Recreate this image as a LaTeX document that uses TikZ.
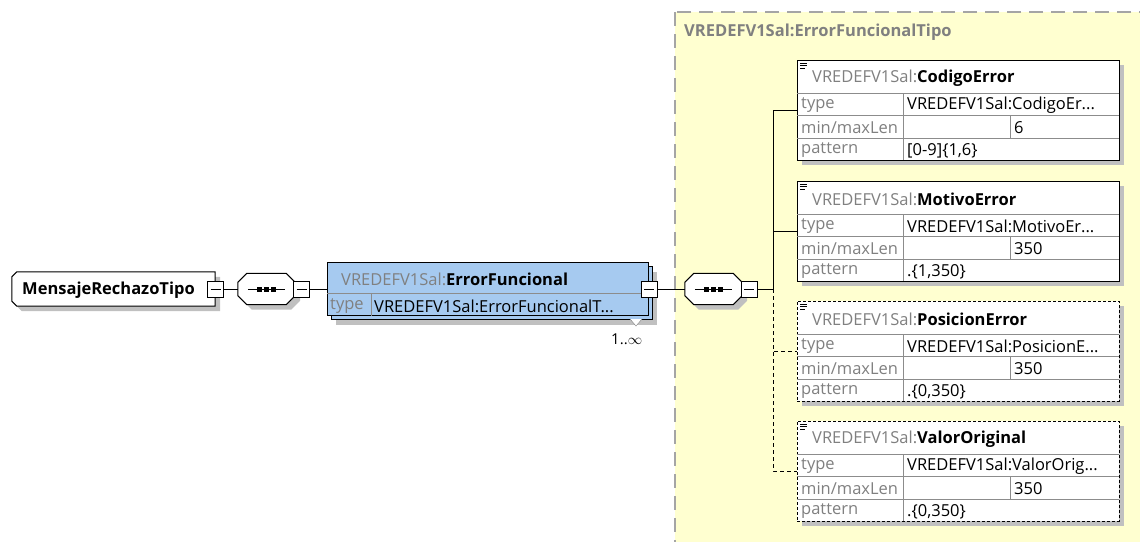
\documentclass[tikz,border=0pt]{standalone}
\usepackage{fontspec}
\setmainfont{Open Sans}
\usepackage{tikz}
\usetikzlibrary{positioning,shadows}
\hyphenpenalty=10000
\definecolor{shadowgray}{RGB}{192,192,192}
\definecolor{panelyellow}{RGB}{255,255,208}
\definecolor{panelline}{RGB}{165,165,165}
\definecolor{efblue}{RGB}{166,202,240}
\definecolor{labelgray}{RGB}{128,128,128}
\definecolor{rulegray}{RGB}{140,140,140}

\begin{document}
\begin{tikzpicture}[x=1pt,y=-1pt,
	every node/.style={font=\fontsize{16.5}{19}\selectfont},
	line/.style={line width=1pt},
	shadowed/.style={general shadow={fill=shadowgray,shadow xshift=5pt,shadow yshift=-5pt}},
	minusnode/.style={draw,fill=white,line width=1pt,minimum size=16pt,inner sep=0pt,
		path picture={\draw ([xshift=3pt]path picture bounding box.west) -- ([xshift=-3pt]path picture bounding box.east);}},
	seqnode/.style={minimum width=57pt,minimum height=31pt,inner sep=0pt},
	octagon/.style={draw,fill=white,line width=1pt,shadowed},
	msgnode/.style={minimum width=203pt,minimum height=34pt,inner sep=0pt},
	efnode/.style={draw,fill=efblue,line width=1pt,minimum width=321pt,minimum height=53pt,inner sep=0pt},
	elemnode/.style={draw,fill=white,line width=1pt,minimum width=322pt,minimum height=100pt,inner sep=0pt,shadowed},
	optnode/.style={elemnode,dash pattern=on 3pt off 2pt},
	panel/.style={fill=panelyellow,draw=panelline,line width=2pt,dash pattern=on 14pt off 8pt},
	txt/.style={anchor=west,inner sep=0pt,yshift=-1.5pt},
	lbl/.style={txt,text=labelgray},
	rule/.style={draw=rulegray,line width=0.8pt},
	opt/.style={line,dash pattern=on 4pt off 3pt}]
	
	\useasboundingbox (0,0) rectangle (1140,541);
	
	% complex type area
	\draw[panel] (675,12) rectangle (1170,570);
	\node[lbl] (ptitle) at (684,31) {\textbf{VREDEFV1Sal:ErrorFuncionalTipo}};
	
	% root and first sequence
	\node[msgnode] (msg) at (113.5,289) {};
	\draw[octagon] ([xshift=5pt]msg.north west) -- (msg.north east) -- (msg.south east) -- ([xshift=5pt]msg.south west)
		-- ([yshift=5pt]msg.south west) -- ([yshift=-5pt]msg.north west) -- cycle;
	\node[txt] (msgt) at (22,289) {\textbf{MensajeRechazoTipo}};
	\node[minusnode] (msgm) at (215.5,289) {};
	\node[seqnode] (seq1) at (266.5,289) {};
	\node[minusnode] (seq1m) at (301.5,289) {};
	
	% ErrorFuncional (1..oo)
	\node[efnode,shadowed] (efback) at (491.5,293) {};
	\node[efnode] (ef) at (487.5,289) {};
	\draw[rule] (327,293) -- (648,293);
	\draw[rule] (371,293) -- (371,315.5);
	\node[txt] (eft) at (341,278) {{\color{labelgray}VREDEFV1Sal:}\textbf{ErrorFuncional}};
	\node[lbl] (eftype) at (330,304.5) {type};
	\node[txt] (efval) at (374,304.5) {VREDEFV1Sal:ErrorFuncionalT...};
	\node[minusnode] (efm) at (649,289) {};
	\draw[labelgray,fill=white] (630,319) -- (636,326) -- (642,319);
	\node[txt,font=\fontsize{15}{17}\selectfont] (efmult) at (611,338) {1..$\infty$};
	
	% second sequence
	\node[seqnode] (seq2) at (713.5,289) {};
	\node[minusnode] (seq2m) at (749,289) {};
	\coordinate (fork) at (773,289);
	
	% sequence octagons with their dots
	\foreach \s in {seq1,seq2} {
		\draw[octagon] ([xshift=9pt]\s.north west) -- ([xshift=-9pt]\s.north east) -- ([yshift=-9pt]\s.north east)
			-- ([yshift=9pt]\s.south east) -- ([xshift=-9pt]\s.south east) -- ([xshift=9pt]\s.south west)
			-- ([yshift=9pt]\s.south west) -- ([yshift=-9pt]\s.north west) -- cycle;
		\draw ([xshift=10pt]\s.west) -- ([xshift=-10pt]\s.east);
		\foreach \dx in {-7,0,7}
			\fill ([xshift=\dx pt]\s.center) ++(-2.5,-2.5) rectangle ++(5,5);
	}
	\node[minusnode] at (seq1m) {};
	\node[minusnode] at (seq2m) {};
	
	% CodigoError
	\begin{scope}[shift={(797,60)}]
		\node[elemnode] (cod) at (161,50) {};
		\draw[line width=0.8pt] (3,3) -- (10,3) (3,5.5) -- (10,5.5) (3,8) -- (8,8);
		\draw[rule] (0,33) -- (322,33) (0,55) -- (322,55) (0,78) -- (322,78) (106,33) -- (106,100) (213,55) -- (213,78);
		\node[txt] (codt) at (15,17) {{\color{labelgray}VREDEFV1Sal:}\textbf{CodigoError}};
		\node[lbl] (codl1) at (4,44) {type};
		\node[lbl] (codl2) at (4,66.5) {min/maxLen};
		\node[lbl] (codl3) at (4,89) {pattern};
		\node[txt] (codv1) at (110,44) {VREDEFV1Sal:CodigoEr...};
		\node[txt] (codv2) at (217,66.5) {6};
		\node[txt] (codv3) at (110,89) {[0-9]\{1,6\}};
	\end{scope}
	
	% MotivoError
	\begin{scope}[shift={(797,181)}]
		\node[elemnode] (mot) at (161,50) {};
		\draw[line width=0.8pt] (3,3) -- (10,3) (3,5.5) -- (10,5.5) (3,8) -- (8,8);
		\draw[rule] (0,33) -- (322,33) (0,55) -- (322,55) (0,78) -- (322,78) (106,33) -- (106,100) (213,55) -- (213,78);
		\node[txt] (mott) at (15,17) {{\color{labelgray}VREDEFV1Sal:}\textbf{MotivoError}};
		\node[lbl] (motl1) at (4,44) {type};
		\node[lbl] (motl2) at (4,66.5) {min/maxLen};
		\node[lbl] (motl3) at (4,89) {pattern};
		\node[txt] (motv1) at (110,44) {VREDEFV1Sal:MotivoEr...};
		\node[txt] (motv2) at (217,66.5) {350};
		\node[txt] (motv3) at (110,89) {.\{1,350\}};
	\end{scope}
	
	% PosicionError (optional)
	\begin{scope}[shift={(797,301)}]
		\node[optnode] (pos) at (161,50) {};
		\draw[line width=0.8pt] (3,3) -- (10,3) (3,5.5) -- (10,5.5) (3,8) -- (8,8);
		\draw[rule] (0,33) -- (322,33) (0,55) -- (322,55) (0,78) -- (322,78) (106,33) -- (106,100) (213,55) -- (213,78);
		\node[txt] (post) at (15,17) {{\color{labelgray}VREDEFV1Sal:}\textbf{PosicionError}};
		\node[lbl] (posl1) at (4,44) {type};
		\node[lbl] (posl2) at (4,66.5) {min/maxLen};
		\node[lbl] (posl3) at (4,89) {pattern};
		\node[txt] (posv1) at (110,44) {VREDEFV1Sal:PosicionE...};
		\node[txt] (posv2) at (217,66.5) {350};
		\node[txt] (posv3) at (110,89) {.\{0,350\}};
	\end{scope}
	
	% ValorOriginal (optional)
	\begin{scope}[shift={(797,421)}]
		\node[optnode] (val) at (161,50) {};
		\draw[line width=0.8pt] (3,3) -- (10,3) (3,5.5) -- (10,5.5) (3,8) -- (8,8);
		\draw[rule] (0,33) -- (322,33) (0,55) -- (322,55) (0,78) -- (322,78) (106,33) -- (106,100) (213,55) -- (213,78);
		\node[txt] (valt) at (15,17) {{\color{labelgray}VREDEFV1Sal:}\textbf{ValorOriginal}};
		\node[lbl] (vall1) at (4,44) {type};
		\node[lbl] (vall2) at (4,66.5) {min/maxLen};
		\node[lbl] (vall3) at (4,89) {pattern};
		\node[txt] (valv1) at (110,44) {VREDEFV1Sal:ValorOrig...};
		\node[txt] (valv2) at (217,66.5) {350};
		\node[txt] (valv3) at (110,89) {.\{0,350\}};
	\end{scope}
	
	\draw[line] (msgm) -- (seq1);
	\draw[line] (seq1m) -- (ef);
	\draw[line] (efm) -- (seq2);
	\draw[line] (seq2m) -- (fork);
	\draw[line] (fork) |- (cod.west);
	\draw[line] (fork) |- (mot.west);
	\draw[opt] (fork) |- (pos.west);
	\draw[opt] (fork) |- (val.west);
\end{tikzpicture}
\end{document}
